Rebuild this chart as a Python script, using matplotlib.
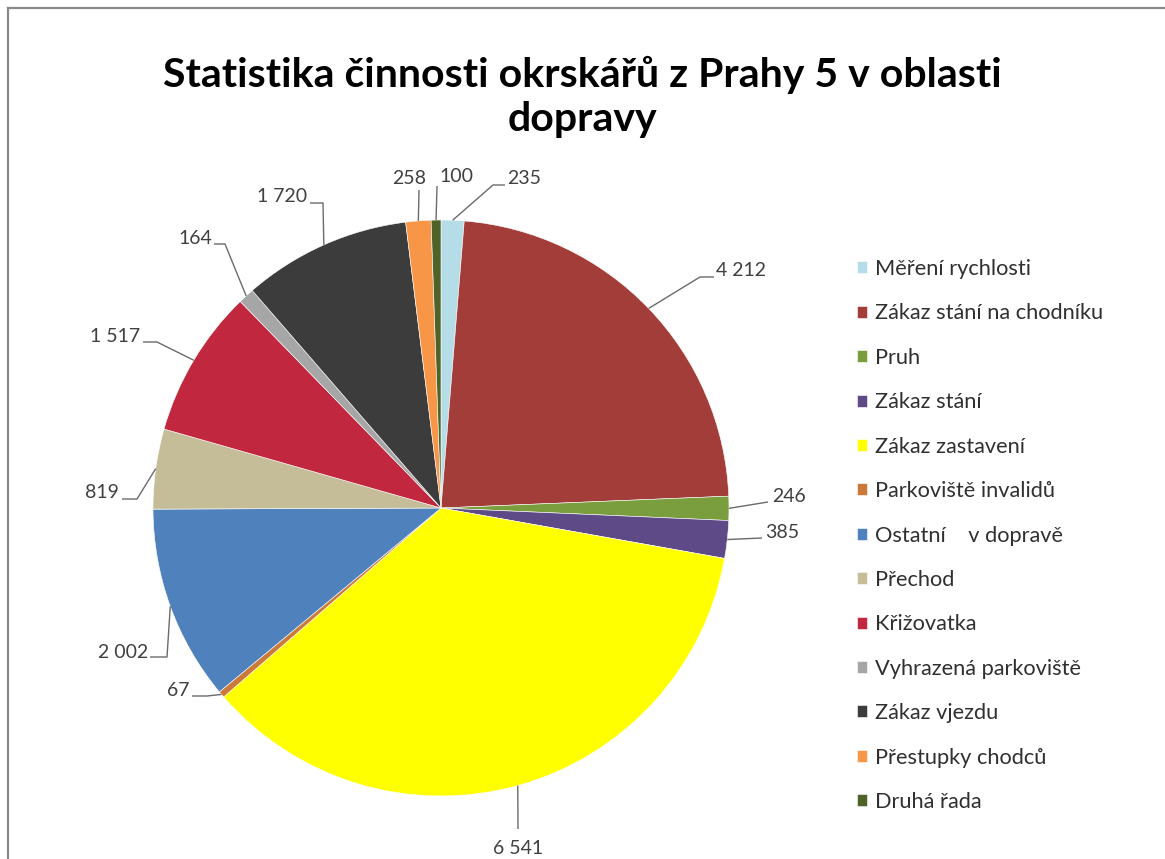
import matplotlib
matplotlib.use("Agg")
import matplotlib.pyplot as plt
import numpy as np
from matplotlib.lines import Line2D

# ---- data ----
categories = [
    "Měření rychlosti",
    "Zákaz stání na chodníku",
    "Pruh",
    "Zákaz stání",
    "Zákaz zastavení",
    "Parkoviště invalidů",
    "Ostatní    v dopravě",
    "Přechod",
    "Křižovatka",
    "Vyhrazená parkoviště",
    "Zákaz vjezdu",
    "Přestupky chodců",
    "Druhá řada",
]
values = [235, 4212, 246, 385, 6541, 67, 2002, 819, 1517, 164, 1720, 258, 100]
colors = [
    "#B4DDE8", "#A33D3A", "#7A9E3E", "#5E4A86", "#FFFF00", "#CC7A3A",
    "#4F81BD", "#C4BD97", "#C1273E", "#A6A6A6", "#3C3C3C", "#F79646", "#4F6228",
]
title = "Statistika činnosti okrskářů z Prahy 5 v oblasti\ndopravy"

FONT = ["Lato", "DejaVu Sans"]
plt.rcParams["font.family"] = FONT

W, H = 1165, 859
fig = plt.figure(figsize=(W / 100, H / 100), dpi=100)
ax = fig.add_axes([0, 0, 1, 1])

cx, cy, R = 441, H - 508, 288
wedges, _ = ax.pie(values, colors=colors, startangle=90, counterclock=False,
                   center=(cx, cy), radius=R, frame=True,
                   wedgeprops=dict(linewidth=0.4, edgecolor="white"))
ax.set_xlim(0, W)
ax.set_ylim(0, H)
ax.set_aspect("equal")
ax.axis("off")

# label layout in image pixel coords: (elbow, end, text_pos, ha)
layout = [
    ((493, 185), (505, 185), (507, 178), "left"),
    ((700, 277), (714, 277), (716, 271), "left"),
    ((768, 502), (768, 502), (772, 497), "left"),
    ((762, 538), (762, 538), (765, 532), "left"),
    ((518, 829), (518, 829), (518, 849), "center"),
    ((207, 696), (192, 696), (189, 690), "right"),
    ((167, 657), (150, 657), (148, 652), "right"),
    ((137, 499), (122, 499), (119, 493), "right"),
    ((157, 342), (143, 342), (140, 336), "right"),
    ((225, 244), (214, 244), (212, 239), "right"),
    ((323, 203), (310, 203), (307, 197), "right"),
    ((419, 190), (419, 190), (409, 178), "center"),
    ((437, 186), (437, 186), (439, 177), "left"),
]

lead_col = "#6b6b6b"
for w, v, (el, en, tp, ha) in zip(wedges, values, layout):
    mid = np.deg2rad((w.theta1 + w.theta2) / 2)
    ax_x = cx + R * np.cos(mid)
    ax_y = cy + R * np.sin(mid)
    xs = [ax_x, el[0], en[0]]
    ys = [ax_y, H - el[1], H - en[1]]
    ax.plot(xs, ys, color=lead_col, lw=1.0, solid_capstyle="butt", zorder=3)
    ax.text(tp[0], H - tp[1], f"{v:,}".replace(",", " "), ha=ha, va="center",
            fontsize=14, color="#404040")

# title
fig.text(582 / W, 1 - 97 / H, title, ha="center", va="center",
         fontsize=29.5, fontweight="bold", color="black", linespacing=1.25)

# legend
leg = fig.legend(wedges, categories, loc="upper left",
                 bbox_to_anchor=(857 / W, 1 - 259 / H),
                 frameon=False, fontsize=15.7, handlelength=0.47, handleheight=0.47,
                 handletextpad=0.36, labelspacing=1.12, borderpad=0, borderaxespad=0)
for t in leg.get_texts():
    t.set_color("#303030")

# frame lines (top and left border)
fig.add_artist(Line2D([8 / W, 8 / W], [0, 1 - 8 / H], transform=fig.transFigure,
                      color="#8a8a8a", lw=1.6))
fig.add_artist(Line2D([8 / W, 1], [1 - 8 / H, 1 - 8 / H], transform=fig.transFigure,
                      color="#8a8a8a", lw=1.6))

fig.savefig("out.png", dpi=100)
